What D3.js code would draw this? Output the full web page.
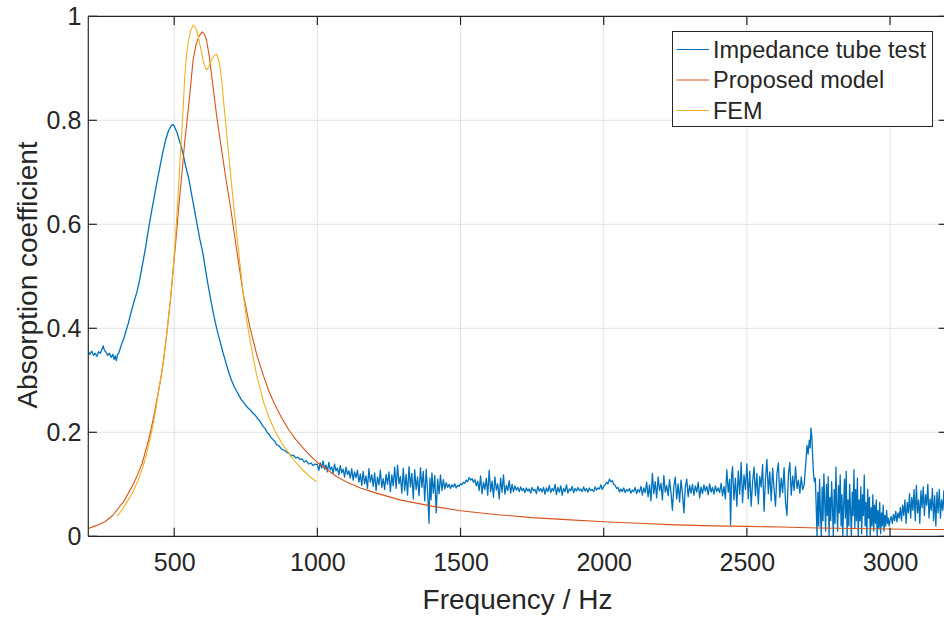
<!DOCTYPE html>
<html>
<head>
<meta charset="utf-8">
<script src="https://cdn.jsdelivr.net/npm/d3@7"></script>
<style>
  body { margin: 0; background: #fff; }
  text { font-family: "Liberation Sans", Arial, sans-serif; fill: #262626; }
</style>
</head>
<body>
<div id="chart"></div>
<script>
// tick labels
var xTicks = [500, 1000, 1500, 2000, 2500, 3000];
var yTicks = [0, 0.2, 0.4, 0.6, 0.8, 1];
var seriesNames = ["Impedance tube test", "Proposed model", "FEM"];

// impedance tube test  [Hz, alpha]
var tubeTest = [
  [200,0.355],[206,0.350],[212,0.356],[218,0.348],[224,0.352],[230,0.346],[236,0.355],[242,0.352],
  [248,0.360],[252,0.366],[256,0.358],[262,0.354],[268,0.348],[274,0.352],[280,0.344],[286,0.350],
  [290,0.340],[294,0.347],[298,0.338],[302,0.350],[306,0.352],[312,0.362],[318,0.372],[324,0.380],
  [330,0.392],[340,0.410],[350,0.432],[360,0.452],[370,0.470],[380,0.495],[390,0.525],[400,0.555],
  [410,0.590],[420,0.622],[430,0.652],[440,0.682],[450,0.710],[460,0.738],[470,0.762],[480,0.780],
  [490,0.790],[495,0.792],[500,0.789],[510,0.776],[520,0.758],[530,0.738],[540,0.712],[550,0.690],
  [560,0.660],[570,0.630],[580,0.600],[590,0.570],[600,0.545],[610,0.510],[620,0.478],[630,0.448],
  [640,0.420],[650,0.396],[660,0.375],[670,0.354],[680,0.335],[690,0.316],[700,0.300],[710,0.287],
  [720,0.277],[728,0.269],[735,0.262],[742,0.258],[750,0.252],[757,0.247],[764,0.244],[770,0.240],
  [776,0.236],[783,0.233],[790,0.227],[796,0.224],[803,0.218],[811,0.211],[818,0.207],[825,0.199],
  [832,0.196],[838,0.190],[845,0.186],[852,0.182],[858,0.176],[866,0.174],[873,0.169],[880,0.166],
  [886,0.165],[892,0.162],[900,0.160],[908,0.155],[916,0.156],[924,0.151],[932,0.152],[939,0.148],
  [946,0.149],[954,0.143],[962,0.145],[970,0.139],[978,0.141],[985,0.136],[992,0.139],
  [1000,.138],[1005,.127],[1010,.141],[1015,.131],[1020,.145],[1025,.129],[1030,.137],[1035,.124],
  [1040,.142],[1045,.128],[1050,.133],[1055,.121],[1060,.139],[1065,.126],[1070,.131],[1075,.118],
  [1080,.136],[1085,.122],[1090,.129],[1095,.114],[1100,.133],[1105,.119],[1110,.126],[1115,.112],
  [1120,.130],[1125,.108],[1130,.124],[1135,.113],[1140,.127],[1145,.104],[1150,.120],[1155,.098],
  [1160,.125],[1165,.101],[1170,.116],[1175,.092],[1180,.130],[1185,.104],[1190,.118],[1195,.096],
  [1200,.122],[1205,.088],[1210,.114],[1215,.099],[1220,.127],[1225,.094],[1230,.111],[1235,.090],
  [1240,.119],[1245,.100],[1250,.124],[1255,.086],[1260,.118],[1265,.097],[1270,.133],[1275,.092],
  [1280,.137],[1285,.101],[1290,.115],[1295,.083],[1300,.131],[1305,.088],[1310,.119],[1315,.079],
  [1320,.134],[1325,.095],[1330,.121],[1335,.072],[1340,.128],[1345,.090],[1350,.114],[1355,.078],
  [1360,.132],[1365,.094],[1370,.125],[1375,.068],[1380,.129],[1385,.085],[1390,.025],[1393,.112],
  [1397,.070],[1400,.122],[1405,.083],[1410,.117],[1415,.045],[1420,.110],[1425,.082],[1430,.118],
  [1435,.088],[1440,.109],[1445,.091],[1450,.103],[1455,.094],[1460,.100],[1465,.092],[1470,.099],
  [1475,.095],[1480,.101],[1485,.093],[1490,.098],[1495,.096],[1500,.101],[1505,.099],[1510,.104],
  [1515,.102],[1520,.108],[1525,.105],[1530,.113],[1535,.108],[1540,.111],[1545,.104],[1550,.109],
  [1555,.097],[1560,.106],[1565,.088],[1570,.116],[1575,.082],[1580,.104],[1585,.090],[1590,.112],
  [1595,.079],[1600,.127],[1605,.086],[1610,.106],[1615,.075],[1620,.114],[1625,.089],[1630,.101],
  [1635,.072],[1640,.112],[1645,.085],[1650,.118],[1655,.081],[1660,.098],[1665,.088],[1670,.107],
  [1675,.083],[1680,.100],[1685,.086],[1690,.097],[1695,.089],[1700,.094],[1705,.086],[1710,.095],
  [1715,.088],[1720,.092],[1725,.084],[1730,.093],[1735,.087],[1740,.091],[1745,.083],[1750,.094],
  [1755,.088],[1760,.090],[1765,.082],[1770,.096],[1775,.087],[1780,.092],[1785,.085],[1790,.094],
  [1795,.081],[1800,.093],[1805,.086],[1810,.098],[1815,.084],[1820,.092],[1825,.087],[1830,.100],
  [1835,.080],[1840,.094],[1845,.085],[1850,.097],[1855,.079],[1860,.092],[1865,.086],[1870,.099],
  [1875,.083],[1880,.091],[1885,.088],[1890,.096],[1895,.084],[1900,.092],[1905,.087],[1910,.094],
  [1915,.088],[1920,.091],[1925,.086],[1930,.095],[1935,.087],[1940,.092],[1945,.085],[1950,.093],
  [1955,.088],[1960,.090],[1965,.086],[1970,.095],[1975,.089],[1980,.093],[1985,.091],[1990,.099],
  [1995,.090],[2000,.096],[2005,.099],[2010,.104],[2015,.101],[2020,.110],[2025,.105],[2030,.107],
  [2035,.100],[2040,.098],[2045,.092],[2050,.094],[2055,.085],[2060,.091],[2065,.086],[2070,.093],
  [2075,.084],[2080,.090],[2085,.087],[2090,.092],[2095,.083],[2100,.089],[2105,.086],[2110,.094],
  [2115,.082],[2120,.090],[2125,.085],[2130,.096],[2135,.079],[2140,.093],[2145,.084],[2150,.104],
  [2155,.076],[2160,.099],[2165,.068],[2170,.121],[2175,.082],[2180,.105],[2185,.074],[2190,.114],
  [2195,.088],[2200,.102],[2205,.070],[2210,.117],[2215,.085],[2220,.098],[2225,.078],[2230,.109],
  [2235,.084],[2240,.050],[2245,.096],[2250,.114],[2255,.072],[2260,.101],[2265,.066],[2270,.108],
  [2275,.083],[2280,.045],[2285,.094],[2290,.110],[2295,.076],[2300,.098],[2305,.083],[2310,.100],
  [2315,.079],[2320,.097],[2325,.085],[2330,.104],[2335,.074],[2340,.095],[2345,.082],[2350,.099],
  [2355,.087],[2360,.096],[2365,.080],[2370,.101],[2375,.085],[2380,.094],[2385,.081],[2390,.097],
  [2395,.086],[2400,.093],[2405,.084],[2410,.102],[2415,.078],[2420,.096],[2425,.072],[2430,.128],
  [2435,.085],[2440,.110],[2443,.022],[2447,.118],[2450,.134],[2455,.070],[2460,.112],[2465,.058],
  [2470,.126],[2475,.081],[2480,.142],[2485,.065],[2490,.118],[2495,.090],[2500,.139],[2505,.072],
  [2510,.125],[2515,.058],[2520,.104],[2525,.133],[2530,.078],[2535,.121],[2540,.062],[2545,.115],
  [2550,.095],[2555,.138],[2560,.048],[2565,.110],[2570,.148],[2575,.082],[2580,.124],[2585,.068],
  [2590,.131],[2595,.090],[2600,.058],[2605,.121],[2610,.141],[2615,.075],[2620,.112],[2625,.084],
  [2630,.132],[2635,.066],[2640,.040],[2645,.118],[2650,.142],[2655,.079],[2660,.116],[2665,.088],
  [2670,.134],[2675,.092],[2680,.108],[2685,.083],[2690,.114],[2695,.090],[2700,.098],[2703,.120],
  [2707,.150],[2710,.175],[2714,.158],[2718,.185],[2721,.170],[2724,.208],[2727,.190],[2730,.150],
  [2733,.118],[2736,.105],[2739,.112],[2742,.060],[2745,.000],[2748,.085],[2751,.020],[2754,.110],
  [2757,.045],[2760,.000],[2763,.095],[2766,.030],[2769,.120],[2772,.065],[2775,.010],[2778,.100],
  [2781,.040],[2784,.115],[2787,.000],[2790,.075],[2793,.030],[2796,.105],[2799,.055],[2802,.000],
  [2805,.090],[2808,.025],[2811,.133],[2814,.060],[2817,.010],[2820,.098],[2823,.045],[2826,.118],
  [2829,.020],[2832,.080],[2835,.000],[2838,.060],[2841,.110],[2844,.035],[2847,.125],[2850,.000],
  [2853,.070],[2856,.020],[2859,.100],[2862,.050],[2865,.000],[2868,.085],[2871,.040],[2874,.128],
  [2877,.015],[2880,.090],[2883,.030],[2886,.112],[2889,.000],[2892,.070],[2895,.030],[2898,.095],
  [2901,.005],[2904,.080],[2907,.040],[2910,.118],[2913,.020],[2916,.065],[2919,.000],[2922,.090],
  [2925,.035],[2928,.075],[2931,.000],[2934,.055],[2937,.020],[2940,.080],[2943,.010],[2946,.060],
  [2949,.025],[2952,.070],[2955,.000],[2958,.050],[2961,.015],[2964,.065],[2967,.005],[2970,.045],
  [2973,.020],[2976,.060],[2979,.010],[2982,.040],[2985,.020],[2988,.050],[2991,.025],[2994,.035],
  [2997,.020],[3000,.030],[3004,.038],[3008,.025],[3012,.042],[3016,.030],[3020,.048],[3024,.028],
  [3028,.045],[3032,.035],[3036,.055],[3040,.030],[3044,.060],[3048,.040],[3052,.070],[3056,.025],
  [3060,.065],[3064,.045],[3068,.082],[3072,.035],[3076,.075],[3080,.050],[3084,.090],[3088,.030],
  [3092,.098],[3096,.045],[3100,.070],[3104,.025],[3108,.088],[3112,.055],[3116,.095],[3120,.040],
  [3124,.080],[3128,.060],[3132,.100],[3136,.035],[3140,.072],[3144,.050],[3148,.092],[3152,.030],
  [3156,.078],[3160,.020],[3164,.085],[3168,.045],[3172,.090],[3176,.035],[3180,.070],[3184,.050],
  [3188,.088],[3192,.030],[3196,.075],[3200,.040]
];

// proposed model  [Hz, alpha]
var proposedModel = [
  [200,0.015],[230,0.021],[258,0.028],[285,0.040],[305,0.054],[325,0.068],[340,0.083],[358,0.101],
  [374,0.121],[388,0.140],[398,0.160],[410,0.184],[421,0.211],[431,0.237],[439,0.262],[448,0.287],
  [456,0.313],[464,0.345],[472,0.380],[480,0.420],[487,0.455],[495,0.505],[505,0.563],[515,0.628],
  [526,0.692],[537,0.760],[549,0.820],[558,0.870],[566,0.916],[576,0.945],[587,0.962],[598,0.970],
  [606,0.965],[613,0.954],[622,0.925],[630,0.890],[640,0.845],[648,0.810],[657,0.775],[665,0.745],
  [680,0.690],[698,0.628],[718,0.551],[741,0.467],[764,0.403],[788,0.350],[811,0.310],[830,0.280],
  [850,0.255],[875,0.228],[900,0.205],[925,0.186],[950,0.170],[975,0.155],[1000,0.142],[1030,0.130],
  [1067,0.115],[1100,0.105],[1150,0.093],[1200,0.084],[1288,0.070],[1400,0.058],[1500,0.049],
  [1620,0.042],[1750,0.036],[1870,0.032],[2000,0.028],[2120,0.025],[2250,0.022],[2380,0.020],
  [2500,0.019],[2620,0.018],[2750,0.016],[2870,0.015],[3000,0.014],[3100,0.013],[3200,0.013]
];

// FEM  [Hz, alpha]
var fem = [
  [301,0.038],[320,0.053],[340,0.070],[358,0.088],[374,0.108],[390,0.132],[404,0.160],[416,0.188],
  [427,0.217],[436,0.245],[444,0.275],[453,0.305],[462,0.333],[472,0.380],[480,0.420],[488,0.460],
  [496,0.510],[503,0.563],[512,0.640],[520,0.720],[529,0.800],[537,0.884],[543,0.925],[549,0.950],
  [557,0.972],[566,0.983],[572,0.980],[578,0.974],[586,0.955],[596,0.929],[604,0.908],[613,0.897],
  [621,0.903],[630,0.916],[640,0.925],[648,0.927],[654,0.918],[660,0.903],[666,0.878],[671,0.845],
  [678,0.805],[685,0.765],[698,0.690],[708,0.635],[718,0.583],[730,0.522],[741,0.467],[752,0.420],
  [764,0.380],[776,0.343],[788,0.310],[800,0.284],[811,0.260],[830,0.230],[850,0.205],[875,0.180],
  [900,0.160],[925,0.142],[950,0.127],[975,0.114],[997,0.105]
];

var seriesColors = ["#0072BD", "#D95319", "#EDB120"];

var width = 944;
var height = 617;
var x0 = 88.3, x1 = 947.3;   // plot box (right edge falls just off the canvas)
var y0 = 536.3, y1 = 16.3;

var xScale = d3.scaleLinear().domain([200, 3200]).range([x0, x1]);
var yScale = d3.scaleLinear().domain([0, 1]).range([y0, y1]);

var svg = d3.select("#chart").append("svg")
  .attr("width", width)
  .attr("height", height);

svg.append("rect")
  .attr("width", width).attr("height", height).attr("fill", "#fff");

svg.append("defs").append("clipPath").attr("id", "plotClip")
  .append("rect")
  .attr("x", x0).attr("y", y1)
  .attr("width", x1 - x0).attr("height", y0 - y1);

/* grid */
var grid = svg.append("g").attr("class", "grid");
grid.selectAll(".gx").data(xTicks).enter().append("line")
  .attr("x1", d => xScale(d)).attr("x2", d => xScale(d))
  .attr("y1", y0).attr("y2", y1)
  .attr("stroke", "#e3e3e3").attr("stroke-width", 1);
grid.selectAll(".gy").data(yTicks.slice(1, -1)).enter().append("line")
  .attr("x1", x0).attr("x2", x1)
  .attr("y1", d => yScale(d)).attr("y2", d => yScale(d))
  .attr("stroke", "#e3e3e3").attr("stroke-width", 1);

/* lines */
var line = d3.line()
  .x(d => xScale(d[0]))
  .y(d => yScale(d[1]));

var lines = svg.append("g").attr("clip-path", "url(#plotClip)");
[tubeTest, proposedModel, fem].forEach(function(s, i) {
  lines.append("path")
    .attr("d", line(s))
    .attr("fill", "none")
    .attr("stroke", seriesColors[i])
    .attr("stroke-width", i === 0 ? 1.3 : 1.1)
    .attr("stroke-linejoin", "round");
});

/* axes */
var tickLen = 8.6;
var xAxis = d3.axisBottom(xScale).tickValues(xTicks).tickSize(0).tickFormat(d3.format("d"));
var yAxis = d3.axisLeft(yScale).tickValues(yTicks).tickSize(0).tickPadding(7)
  .tickFormat(d => d === 0 || d === 1 ? d : d3.format(".1f")(d));

var gx = svg.append("g")
  .attr("transform", `translate(0, ${y0})`)
  .call(xAxis);
var gy = svg.append("g")
  .attr("transform", `translate(${x0}, 0)`)
  .call(yAxis);
[gx, gy].forEach(function(g) {
  g.select(".domain").remove();
  g.selectAll("text").style("font-size", "25px").attr("fill", "#262626");
});
gx.selectAll("text").attr("y", 34.7).attr("dy", null);

var axisColor = "#262626";
var frame = svg.append("g").attr("stroke", axisColor).attr("stroke-width", 1.2);
frame.append("line").attr("x1", x0).attr("x2", x1).attr("y1", y0).attr("y2", y0);
frame.append("line").attr("x1", x0).attr("x2", x1).attr("y1", y1).attr("y2", y1);
frame.append("line").attr("x1", x0).attr("x2", x0).attr("y1", y0).attr("y2", y1);
frame.append("line").attr("x1", x1).attr("x2", x1).attr("y1", y0).attr("y2", y1);

// inward tick marks on all four sides
frame.selectAll(".tb").data(xTicks).enter().append("line")
  .attr("x1", d => xScale(d)).attr("x2", d => xScale(d))
  .attr("y1", y0).attr("y2", y0 - tickLen);
frame.selectAll(".tt").data(xTicks).enter().append("line")
  .attr("x1", d => xScale(d)).attr("x2", d => xScale(d))
  .attr("y1", y1).attr("y2", y1 + tickLen);
frame.selectAll(".tl").data(yTicks).enter().append("line")
  .attr("x1", x0).attr("x2", x0 + tickLen)
  .attr("y1", d => yScale(d)).attr("y2", d => yScale(d));
frame.selectAll(".tr").data(yTicks).enter().append("line")
  .attr("x1", x1).attr("x2", x1 - tickLen)
  .attr("y1", d => yScale(d)).attr("y2", d => yScale(d));

/* axis labels */
svg.append("text")
  .attr("x", 517.5)
  .attr("y", 609)
  .attr("text-anchor", "middle")
  .style("font-size", "28px")
  .text("Frequency / Hz");

svg.append("text")
  .attr("transform", "rotate(-90)")
  .attr("x", -275)
  .attr("y", 36.5)
  .attr("text-anchor", "middle")
  .style("font-size", "28px")
  .text("Absorption coefficient");

/* legend */
var legend = svg.append("g").attr("class", "legend");
legend.append("rect")
  .attr("x", 672.5).attr("y", 31.5)
  .attr("width", 260).attr("height", 95)
  .attr("fill", "#fff")
  .attr("stroke", axisColor).attr("stroke-width", 1);

var rows = legend.selectAll(".row").data(seriesNames).enter().append("g")
  .attr("transform", (d, i) => `translate(0, ${49.5 + i * 30.5})`);
rows.append("line")
  .attr("x1", 676.5).attr("x2", 709)
  .attr("y1", 0).attr("y2", 0)
  .attr("stroke", (d, i) => seriesColors[i])
  .attr("stroke-width", 1.2);
rows.append("text")
  .attr("x", 713)
  .attr("y", 0)
  .attr("dy", "0.35em")
  .style("font-size", "23.5px")
  .text(d => d);
</script>
</body>
</html>
